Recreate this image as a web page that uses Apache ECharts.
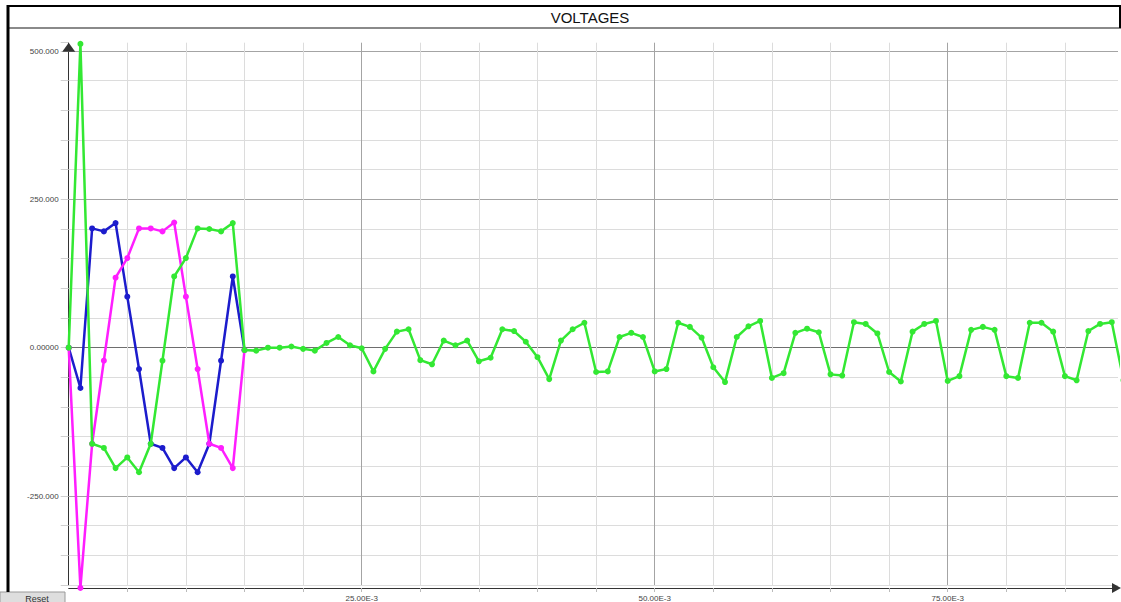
<!DOCTYPE html>
<html style="height: 100%">
<head>
	<meta charset="utf-8">
	<title>VOLTAGES</title>
	<script type="text/javascript" src="https://cdn.jsdelivr.net/npm/echarts@6/dist/echarts.min.js"></script>
</head>
<body style="height: 100%; margin: 0; background: #fff">
<div id="container" style="width: 1121px; height: 602px"></div>
<script type="text/javascript">
	// one sample every 1 ms
	var sampleStep = 0.001;

	var blueV = [0, -68, 201, 196, 210, 86, -36, -162, -169, -203, -185, -210, -162, -22, 120, -4];
	var magentaV = [0, -405, -162, -22, 118, 151, 201, 201, 196, 211, 86, -36, -162, -169, -203, -4];
	var greenV = [0, 512, -162, -169, -203, -185, -210, -162, -22, 120, 151, 201, 200, 196, 210, -4,
		-5, 0, 0, 2, -2, -5, 8, 18, 4, -1, -40, -2, 27, 31, -21, -28, 12, 4, 12, -23, -17, 31, 28, 10,
		-16, -53, 12, 31, 42, -41, -40, 18, 25, 18, -40, -36, 42, 35, 17, -33, -58, 18, 36, 45, -51, -43,
		25, 32, 26, -45, -47, 43, 40, 24, -41, -57, 27, 40, 45, -56, -48, 30, 35, 30, -48, -51, 42, 42,
		27, -48, -55, 28, 40, 43, -55];

	var yLabelValues = [-250, 0, 250, 500];
	var yLabelTexts = ['-250.000', '0.00000', '250.000', '500.000'];
	var xLabelValues = [25, 50, 75]; // ms
	var xLabelTexts = ['25.00E-3', '50.00E-3', '75.00E-3'];

	function toPairs(vals) {
		return vals.map(function (v, i) { return [i * sampleStep, v]; });
	}

	var yMin = -400, yMax = 514, yStep = 50;
	var xMaxMs = 89.53;
	var minorCol = '#dcdcdc', majorCol = '#a4a4a4', zeroCol = '#6e6e6e';

	// split line colours, one per tick (last one is the top / right edge)
	var ySplitColors = [];
	for (var v = yMin; v <= 500; v += yStep) {
		ySplitColors.push(v === 0 ? zeroCol : (v % 250 === 0 ? majorCol : minorCol));
	}
	ySplitColors.push('rgba(0,0,0,0)');
	var xSplitColors = [];
	for (var ms = 0; ms < xMaxMs; ms += 5) {
		xSplitColors.push(ms % 25 === 0 ? majorCol : minorCol);
	}
	xSplitColors.push('rgba(0,0,0,0)');

	var dom = document.getElementById('container');
	var myChart = echarts.init(dom, null, {renderer: 'svg', width: 1121, height: 602});

	function lineSeries(name, color, vals, z) {
		return {
			name: name,
			type: 'line',
			data: toPairs(vals),
			clip: false,
			z: z,
			symbol: 'circle',
			symbolSize: 6,
			showSymbol: true,
			animation: false,
			lineStyle: {color: color, width: 2.5},
			itemStyle: {color: color}
		};
	}

	var option = {
		animation: false,
		backgroundColor: '#fff',
		grid: {left: 68.7, right: 3, top: 42.7, bottom: 13.4},
		xAxis: {
			type: 'value',
			min: 0,
			max: xMaxMs / 1000,
			interval: 0.005,
			offset: 3,
			axisLine: {
				onZero: false,
				lineStyle: {color: '#333', width: 1},
				symbol: ['none', 'triangle'],
				symbolSize: [10, 9],
				symbolOffset: [0, -1.5]
			},
			axisTick: {show: true, length: 4, lineStyle: {color: '#bbb'}},
			splitLine: {show: true, lineStyle: {color: xSplitColors, width: 1}},
			axisLabel: {
				margin: 6,
				fontSize: 8,
				color: '#444',
				fontFamily: 'Liberation Sans',
				showMinLabel: false,
				showMaxLabel: false,
				formatter: function (val) {
					var ms = Math.round(val * 1000);
					var k = xLabelValues.indexOf(ms);
					return (k >= 0 && Math.abs(val * 1000 - ms) < 1e-6) ? xLabelTexts[k] : '';
				}
			}
		},
		yAxis: {
			type: 'value',
			min: yMin,
			max: yMax,
			interval: yStep,
			axisLine: {
				show: true,
				onZero: false,
				lineStyle: {color: '#333', width: 1},
				symbol: ['none', 'triangle'],
				symbolSize: [13, 9],
				symbolOffset: [0, -4.5]
			},
			axisTick: {show: true, length: 8, lineStyle: {color: '#d0d0d0'}},
			splitLine: {show: true, lineStyle: {color: ySplitColors, width: 1}},
			axisLabel: {
				margin: 10,
				fontSize: 8,
				color: '#444',
				fontFamily: 'Liberation Sans',
				formatter: function (val) {
					var k = yLabelValues.indexOf(Math.round(val));
					return (k >= 0 && Math.abs(val - Math.round(val)) < 1e-6) ? yLabelTexts[k] : '';
				}
			}
		},
		series: [
			lineSeries('Blue', '#1c1ccc', blueV, 2),
			lineSeries('Magenta', '#ff1eff', magentaV, 3),
			lineSeries('Green', '#33e833', greenV, 4)
		],
		graphic: [
			// title bar
			{type: 'rect', shape: {x: 8, y: 6, width: 1112, height: 22}, style: {fill: '#fff'}, z: 10},
			{type: 'line', shape: {x1: 9, y1: 28, x2: 1121, y2: 28}, style: {stroke: '#8a8a8a', lineWidth: 2}, z: 11},
			{type: 'line', shape: {x1: 7, y1: 6, x2: 1121, y2: 6}, style: {stroke: '#000', lineWidth: 2}, z: 11},
			{type: 'line', shape: {x1: 8, y1: 5, x2: 8, y2: 592}, style: {stroke: '#000', lineWidth: 3}, z: 11},
			{type: 'line', shape: {x1: 1120, y1: 5, x2: 1120, y2: 28}, style: {stroke: '#000', lineWidth: 2}, z: 11},
			{
				type: 'text', x: 590, y: 17, z: 12,
				style: {text: 'VOLTAGES', fill: '#111', font: '15px "Liberation Sans", Arial, sans-serif', textAlign: 'center', textVerticalAlign: 'middle'}
			},
			// reset button
			{type: 'rect', shape: {x: 0, y: 592, width: 65, height: 12}, style: {fill: '#dedede', stroke: '#9a9a9a', lineWidth: 1}, z: 10},
			{
				type: 'text', x: 37, y: 598.5, z: 12,
				style: {text: 'Reset', fill: '#333', font: '9px "Liberation Sans", Arial, sans-serif', textAlign: 'center', textVerticalAlign: 'middle'}
			}
		]
	};

	myChart.setOption(option);
</script>
</body>
</html>
